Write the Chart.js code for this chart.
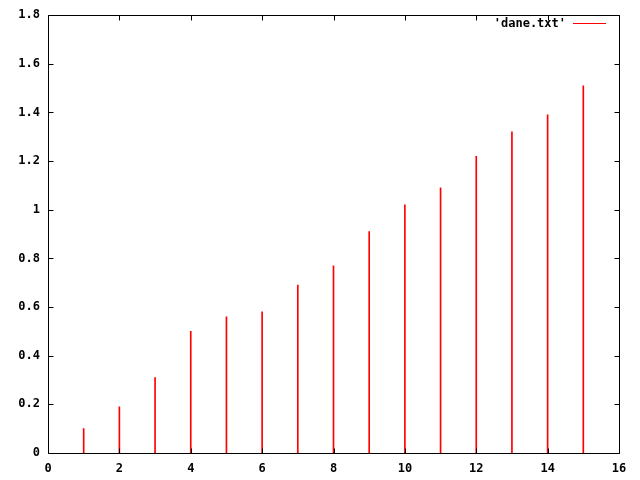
<!DOCTYPE html>
<html>
<head>
<meta charset="utf-8">
<script src="https://cdn.jsdelivr.net/npm/chart.js@4"></script>
<style>
  body { margin: 0; background: #fff; }
</style>
</head>
<body>
<canvas id="plot" width="640" height="480"></canvas>
<script>
// dane.txt
var xs = [1, 2, 3, 4, 5, 6, 7, 8, 9, 10, 11, 12, 13, 14, 15];
var ys = [0.1, 0.19, 0.31, 0.5, 0.56, 0.58, 0.69, 0.77, 0.91, 1.02, 1.09, 1.22, 1.32, 1.39, 1.51];
var seriesName = "'dane.txt'";
var xTicks = [0, 2, 4, 6, 8, 10, 12, 14, 16];
var yTicks = [0, 0.2, 0.4, 0.6, 0.8, 1, 1.2, 1.4, 1.6, 1.8];

var lineColor = '#ff0000';
var font = { family: "'DejaVu Sans Mono', monospace", size: 12, weight: 'bold' };

// ramka i ticki do srodka, jak w gnuplocie
var gnuFrame = {
    id: 'gnuFrame',
    afterDraw(chart) {
        const ctx = chart.ctx;
        const a = chart.chartArea;
        const sx = chart.scales.x;
        const sy = chart.scales.y;
        const L = Math.round(a.left) + 0.5, R = Math.round(a.right) + 0.5;
        const T = Math.round(a.top) + 0.5, B = Math.round(a.bottom) + 0.5;
        ctx.save();
        ctx.strokeStyle = '#000';
        ctx.lineWidth = 1;
        ctx.beginPath();
        ctx.rect(L, T, R - L, B - T);
        xTicks.forEach(v => {
            const px = Math.round(sx.getPixelForValue(v)) + 0.5;
            ctx.moveTo(px, B); ctx.lineTo(px, B - 5);
            ctx.moveTo(px, T); ctx.lineTo(px, T + 5);
        });
        yTicks.forEach(v => {
            const py = Math.round(sy.getPixelForValue(v)) + 0.5;
            ctx.moveTo(L, py); ctx.lineTo(L + 5, py);
            ctx.moveTo(R, py); ctx.lineTo(R - 5, py);
        });
        ctx.stroke();

        // legenda
        ctx.font = 'bold 12px "DejaVu Sans Mono", monospace';
        ctx.fillStyle = '#000';
        ctx.textAlign = 'right';
        ctx.textBaseline = 'middle';
        ctx.fillText(chart.data.datasets[0].label, 566, 24);
        ctx.fillStyle = lineColor;
        ctx.fillRect(573, 23, 33, 1);
        ctx.restore();
    }
};

new Chart(document.getElementById('plot'), {
    type: 'bar',
    data: {
        datasets: [{
            label: seriesName,
            data: xs.map((x, k) => ({ x: x, y: ys[k] })),
            backgroundColor: lineColor,
            borderWidth: 0,
            barThickness: 1
        }]
    },
    options: {
        responsive: false,
        animation: false,
        layout: { padding: { top: 14, right: 21, left: 0, bottom: 0 } },
        plugins: { legend: { display: false }, tooltip: { enabled: false } },
        scales: {
            x: {
                type: 'linear',
                min: 0, max: 16,
                offset: false,
                afterFit: s => { s.height = 27; },
                afterBuildTicks: s => { s.ticks = xTicks.map(v => ({ value: v })); },
                grid: { display: false, drawTicks: false, offset: false },
                border: { display: false },
                ticks: { color: '#000', font: font, padding: 9, maxRotation: 0 }
            },
            y: {
                min: 0, max: 1.8,
                afterFit: s => { s.width = 48; },
                afterBuildTicks: s => { s.ticks = yTicks.map(v => ({ value: v })); },
                grid: { display: false, drawTicks: false },
                border: { display: false },
                ticks: {
                    color: '#000', font: font, padding: 8,
                    callback: v => String(parseFloat(v.toFixed(1)))
                }
            }
        }
    },
    plugins: [gnuFrame]
});
</script>
</body>
</html>
